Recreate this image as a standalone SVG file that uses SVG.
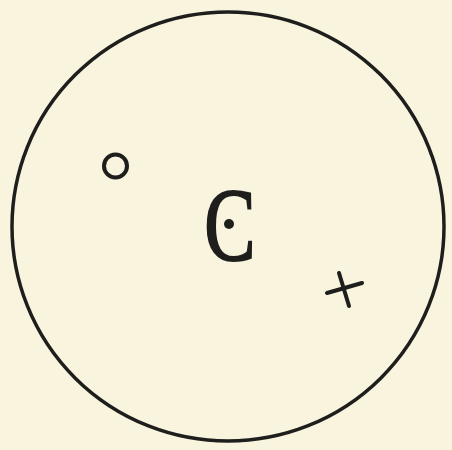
<svg xmlns="http://www.w3.org/2000/svg" width="452" height="450" viewBox="0 0 452 450">
<style>
.ink{fill:none;stroke:#1e1e1c;stroke-linecap:round}
.lbl{font-family:"Liberation Serif",serif;font-size:104px;fill:#1e1e1c;stroke:#1e1e1c;stroke-width:2}
</style>
<rect width="452" height="450" fill="#f8f4de"/>
<g id="outer"><ellipse class="ink" cx="228" cy="226.5" rx="216" ry="214.5" stroke-width="3.5"/></g>
<g id="small-circle"><circle class="ink" cx="115.5" cy="166" r="11.5" stroke-width="4"/></g>
<g id="label-C">
<text class="lbl" x="0" y="0" text-anchor="middle" transform="translate(230 260) scale(0.74 1)">C</text>
<circle cx="229" cy="224" r="5" fill="#1e1e1c"/>
</g>
<g id="cross">
<line class="ink" x1="327" y1="293" x2="362" y2="283" stroke-width="4"/>
<line class="ink" x1="339" y1="273" x2="349" y2="306" stroke-width="4"/>
</g>
</svg>
